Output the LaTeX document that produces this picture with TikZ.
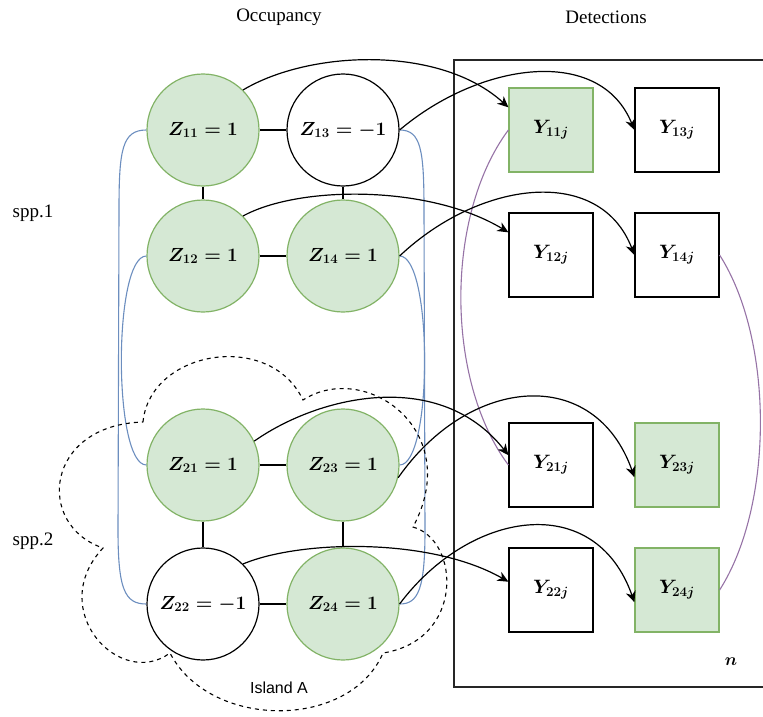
\documentclass[tikz,border=0pt]{standalone}
\usepackage{amsmath}
\usepackage{graphicx}
\usepackage{fontspec}
\newfontfamily\serifl{Liberation Serif}
\newfontfamily\sansl{Liberation Sans}
\usetikzlibrary{arrows.meta,calc}
\definecolor{gfill}{HTML}{D5E8D4}
\definecolor{gline}{HTML}{82B366}
\definecolor{bline}{HTML}{6C8EBF}
\definecolor{pline}{HTML}{9673A6}
\newcommand{\zlab}[1]{\scalebox{1.1}{$#1$}}
\newcommand{\ylab}[1]{\scalebox{1.12}{$#1$}}
\tikzset{
  zoff/.style={circle, draw=black, line width=1.2pt, minimum size=112pt, inner sep=0pt, fill=white, font=\fontsize{18}{20}\selectfont\boldmath},
  zon/.style={zoff, draw=gline, fill=gfill},
  yoff/.style={rectangle, draw=black, line width=1.2pt, minimum size=84pt, inner sep=0pt, fill=white, font=\fontsize{17}{19}\selectfont\boldmath},
  yon/.style={yoff, draw=gline, fill=gfill},
  arr/.style={-{Stealth[length=11pt,width=10pt,inset=3.5pt]}, line width=1.2pt, black},
  link/.style={line width=1.2pt, black},
  blue link/.style={line width=1.1pt, bline},
  purple link/.style={line width=1.1pt, pline},
  serl/.style={font=\serifl\fontsize{19}{22}\selectfont},
  sanl/.style={font=\sansl\fontsize{16}{18}\selectfont},
}
\begin{document}
\begin{tikzpicture}[x=1pt,y=-1pt]
\useasboundingbox (0,0) rectangle (763,717);
% plate
\draw[line width=1.2pt, black!85] (770,60) -- (454,60) -- (454,687) -- (770,687);
% titles
\node[serl] (occ) at (279,17) {Occupancy};
\node[serl] (det) at (606,17) {Detections};
\node[serl] (spp1) at (33,213) {spp.1};
\node[serl] (spp2) at (33,541) {spp.2};
\node[sanl] (isl) at (279,688) {Island A};
\node[font=\fontsize{17}{19}\selectfont\boldmath] (nlab) at (731,662) {$n$};
% occupancy nodes
\node[zon]  (Z11) at (203,130) {\zlab{Z_{11} = 1}};
\node[zoff] (Z13) at (343,130) {\zlab{Z_{13} = -1}};
\node[zon]  (Z12) at (203,256) {\zlab{Z_{12} = 1}};
\node[zon]  (Z14) at (343,256) {\zlab{Z_{14} = 1}};
\node[zon]  (Z21) at (203,465) {\zlab{Z_{21} = 1}};
\node[zon]  (Z23) at (343,465) {\zlab{Z_{23} = 1}};
\node[zoff] (Z22) at (203,604) {\zlab{Z_{22} = -1}};
\node[zon]  (Z24) at (343,604) {\zlab{Z_{24} = 1}};
% detection nodes
\node[yon]  (Y11) at (551,130) {\ylab{Y_{11j}}};
\node[yoff] (Y13) at (677,130) {\ylab{Y_{13j}}};
\node[yoff] (Y12) at (551,255) {\ylab{Y_{12j}}};
\node[yoff] (Y14) at (677,255) {\ylab{Y_{14j}}};
\node[yoff] (Y21) at (551,465) {\ylab{Y_{21j}}};
\node[yon]  (Y23) at (677,465) {\ylab{Y_{23j}}};
\node[yoff] (Y22) at (551,590) {\ylab{Y_{22j}}};
\node[yon]  (Y24) at (677,590) {\ylab{Y_{24j}}};
% neighbour links
\draw[link, line width=1.6pt] (Z11.east) -- (Z13.west);
\draw[link, line width=1.6pt] (Z11.south) -- (Z12.north);
\draw[link] (Z13.south) -- (Z14.north);
\draw[link] (Z12.east) -- (Z14.west);
\draw[link, line width=1.6pt] (Z21.east) -- (Z23.west);
\draw[link] (Z21.south) -- (Z22.north);
\draw[link] (Z23.south) -- (Z24.north);
\draw[link] (Z22.east) -- (Z24.west);
% blue links
\draw[blue link] (Z11.west) .. controls (122,130) and (119,150) .. (119,210) -- (118,530) .. controls (118,590) and (125,604) .. (Z22.west);
\draw[blue link] (Z12.west) .. controls (113,256) and (113,465) .. (Z21.west);
\draw[blue link] (Z13.east) .. controls (421,130) and (424,150) .. (424,210) -- (425,530) .. controls (425,590) and (418,604) .. (Z24.east);
\draw[blue link] (Z14.east) .. controls (433,256) and (433,465) .. (Z23.east);
% purple links
\draw[purple link] (Y11.west) .. controls (445,215) and (445,380) .. (Y21.west);
\draw[purple link] (Y14.east) .. controls (774,340) and (774,505) .. (Y24.east);
% island cloud
\draw[line width=1.1pt, dash pattern=on 4pt off 4pt] (143,422) .. controls (150,350) and (270,330) .. (303,400)
  .. controls (365,360) and (465,430) .. (413,527)
  .. controls (460,540) and (465,640) .. (383,653)
  .. controls (350,730) and (210,730) .. (170,653)
  .. controls (120,690) and (45,610) .. (103,548)
  .. controls (35,525) and (45,425) .. (143,422) -- cycle;
% detection arrows
\draw[arr] (Z11.45) .. controls (310,50) and (440,45) .. (Y11.152);
\draw[arr] (Z13.east) .. controls (480,62) and (600,45) .. (Y13.west);
\draw[arr] (Z12.45) .. controls (300,185) and (430,185) .. (Y12.152);
\draw[arr] (Z14.east) .. controls (480,180) and (600,165) .. (Y14.west);
\draw[arr] (Z21.25) .. controls (320,395) and (440,368) .. (Y21.167);
\draw[arr] (Z23.-13) .. controls (470,375) and (595,365) .. (Y23.196);
\draw[arr] (Z22.45) .. controls (300,540) and (430,537) .. (Y22.169);
\draw[arr] (Z24.east) .. controls (470,510) and (595,490) .. (Y24.196);
\end{tikzpicture}
\end{document}
